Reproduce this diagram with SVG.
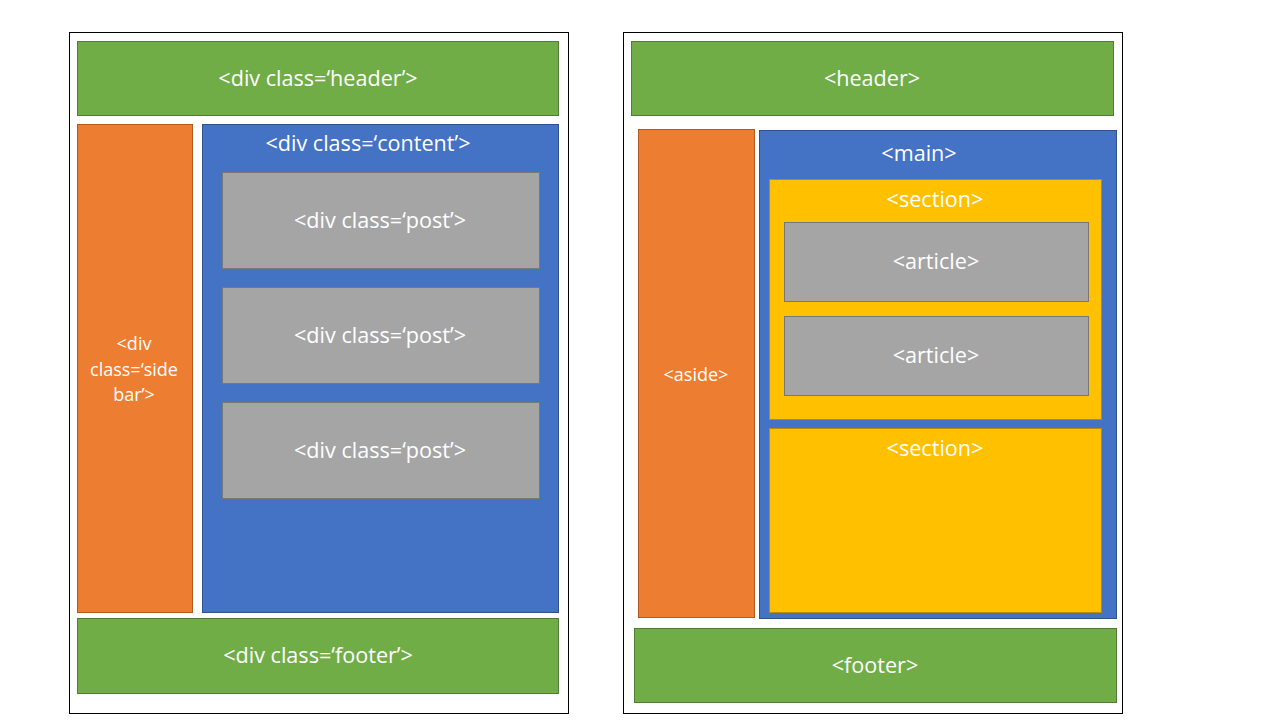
<svg xmlns="http://www.w3.org/2000/svg" width="1280" height="720" viewBox="0 0 1280 720">
<style>
.frame{fill:#fff;stroke:#000;stroke-width:1}
.g{fill:#70AD47;stroke:#507E32;stroke-width:1}
.o{fill:#ED7D31;stroke:#AE5A21;stroke-width:1}
.b{fill:#4472C4;stroke:#2F528F;stroke-width:1}
.y{fill:#FFC000;stroke:#BC8C00;stroke-width:1}
.gr{fill:#A5A5A5;stroke:#787878;stroke-width:1}
text{fill:#fff;font-family:"Open Sans","Noto Sans","Liberation Sans",sans-serif;font-size:21.6px;text-anchor:middle;dominant-baseline:central}
text.s{font-size:18px}
</style>
<rect width="1280" height="720" fill="#fff"/>
<g id="left-page">
<rect class="frame" x="69.5" y="32.5" width="499" height="681"/>
</g>
<g id="div-header"><rect class="g" x="77.5" y="41.5" width="481" height="74"/><text x="318" y="77">&lt;div class=‘header’&gt;</text></g>
<g id="div-sidebar"><rect class="o" x="77.5" y="124.5" width="115" height="488"/>
<text class="s" x="134" y="343">&lt;div</text><text class="s" x="134" y="369">class=‘side</text><text class="s" x="134" y="394">bar’&gt;</text></g>
<g id="div-content"><rect class="b" x="202.5" y="124.5" width="356" height="488"/><text x="368" y="142">&lt;div class=‘content’&gt;</text></g>
<g id="post1"><rect class="gr" x="222.5" y="172.5" width="317" height="96"/><text x="380" y="219">&lt;div class=‘post’&gt;</text></g>
<g id="post2"><rect class="gr" x="222.5" y="287.5" width="317" height="96"/><text x="380" y="334">&lt;div class=‘post’&gt;</text></g>
<g id="post3"><rect class="gr" x="222.5" y="402.5" width="317" height="96"/><text x="380" y="449">&lt;div class=‘post’&gt;</text></g>
<g id="div-footer"><rect class="g" x="77.5" y="618.5" width="481" height="75"/><text x="318" y="654">&lt;div class=‘footer’&gt;</text></g>

<g id="right-page">
<rect class="frame" x="623.5" y="32.5" width="499" height="681"/>
</g>
<g id="header"><rect class="g" x="631.5" y="41.5" width="482" height="74"/><text x="872" y="77">&lt;header&gt;</text></g>
<g id="aside"><rect class="o" x="638.5" y="129.5" width="116" height="488"/><text class="s" x="696" y="374">&lt;aside&gt;</text></g>
<g id="main"><rect class="b" x="759.5" y="130.5" width="357" height="488"/><text x="919" y="152">&lt;main&gt;</text></g>
<g id="section1"><rect class="y" x="769.5" y="179.5" width="332" height="240"/><text x="935" y="198">&lt;section&gt;</text></g>
<g id="article1"><rect class="gr" x="784.5" y="222.5" width="304" height="79"/><text x="936" y="260">&lt;article&gt;</text></g>
<g id="article2"><rect class="gr" x="784.5" y="316.5" width="304" height="79"/><text x="936" y="354">&lt;article&gt;</text></g>
<g id="section2"><rect class="y" x="769.5" y="428.5" width="332" height="184"/><text x="935" y="447">&lt;section&gt;</text></g>
<g id="footer"><rect class="g" x="634.5" y="628.5" width="482" height="74"/><text x="875" y="664">&lt;footer&gt;</text></g>
<g id="connectors"/>
</svg>
